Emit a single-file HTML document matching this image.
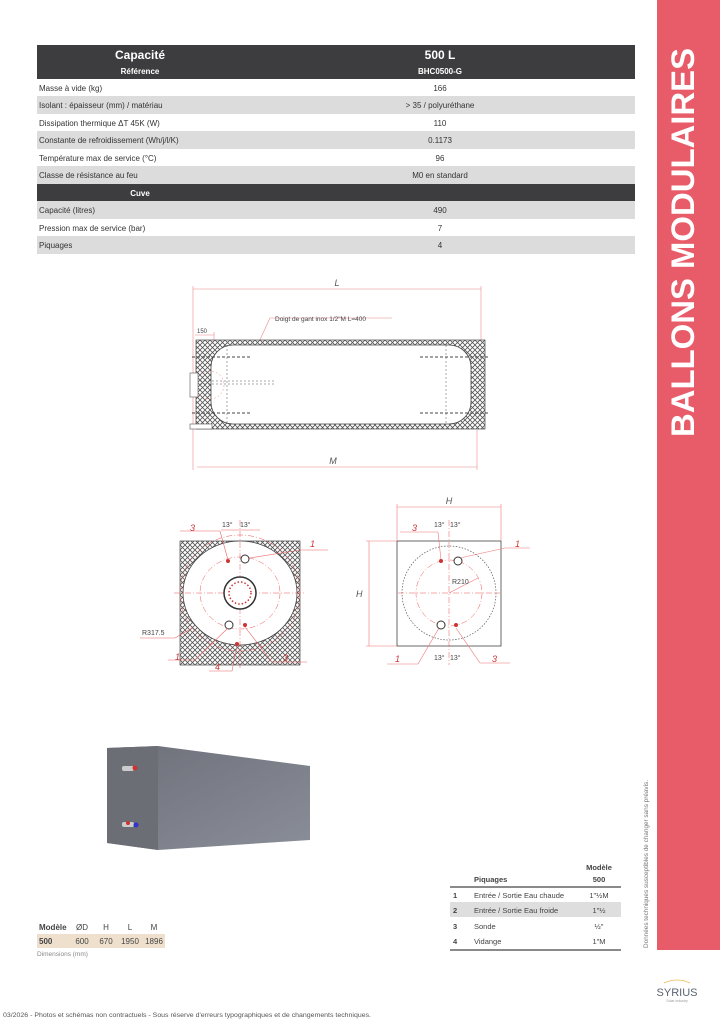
<!DOCTYPE html>
<html><head><meta charset="utf-8"><style>
html,body{margin:0;padding:0;background:#fff}
svg{display:block}
text{font-family:"Liberation Sans",sans-serif}
</style></head><body>
<svg width="720" height="1024" viewBox="0 0 720 1024" xmlns="http://www.w3.org/2000/svg">
<defs>
<pattern id="hx" width="5" height="5" patternUnits="userSpaceOnUse">
<rect width="5" height="5" fill="#fff"/>
<path d="M0 0L5 5M5 0L0 5" stroke="#555" stroke-width="0.8"/>
</pattern>
<linearGradient id="tk" x1="0" y1="0" x2="1" y2="1"><stop offset="0" stop-color="#6d7079"/><stop offset="1" stop-color="#8a8e98"/></linearGradient>
</defs>
<!-- red band -->
<rect x="657" y="0" width="63" height="950" fill="#e85c69"/>
<text transform="translate(694,437) rotate(-90)" font-size="32" font-weight="bold" fill="#fff" textLength="389" lengthAdjust="spacingAndGlyphs">BALLONS MODULAIRES</text>
<text transform="translate(648,948) rotate(-90)" font-size="6.5" fill="#777" textLength="168" lengthAdjust="spacingAndGlyphs">Données techniques susceptibles de changer sans préavis.</text>
<!-- logo -->
<path d="M664 983 Q677 977 690 983" stroke="#e8b84a" fill="none" stroke-width="0.8"/>
<text x="677" y="996" font-size="11" fill="#5a6470" text-anchor="middle">SYRIUS</text>
<text x="677" y="1002" font-size="3.5" fill="#999" text-anchor="middle">Solar industry</text>

<!-- main table -->
<rect x="37" y="45" width="598" height="34" fill="#3d3d3f"/>
<text x="140" y="59" font-size="12" font-weight="bold" fill="#fff" text-anchor="middle">Capacité</text>
<text x="440" y="59" font-size="12" font-weight="bold" fill="#fff" text-anchor="middle">500 L</text>
<text x="140" y="74" font-size="8" font-weight="bold" fill="#fff" text-anchor="middle">Référence</text>
<text x="440" y="74" font-size="8" font-weight="bold" fill="#fff" text-anchor="middle">BHC0500-G</text>
<rect x="37" y="96" width="598" height="18" fill="#dcdcdc"/>
<rect x="37" y="131" width="598" height="18" fill="#dcdcdc"/>
<rect x="37" y="166" width="598" height="18" fill="#dcdcdc"/>
<rect x="37" y="184" width="598" height="17" fill="#3d3d3f"/>
<text x="140" y="196" font-size="8" font-weight="bold" fill="#fff" text-anchor="middle">Cuve</text>
<rect x="37" y="201" width="598" height="18" fill="#dcdcdc"/>
<rect x="37" y="236" width="598" height="18" fill="#dcdcdc"/>
<g font-size="8" fill="#333">
<text x="39" y="91">Masse à vide (kg)</text><text x="440" y="91" text-anchor="middle">166</text>
<text x="39" y="108">Isolant : épaisseur (mm) / matériau</text><text x="440" y="108" text-anchor="middle">&gt; 35 / polyuréthane</text>
<text x="39" y="126">Dissipation thermique ΔT 45K (W)</text><text x="440" y="126" text-anchor="middle">110</text>
<text x="39" y="143">Constante de refroidissement (Wh/j/l/K)</text><text x="440" y="143" text-anchor="middle">0.1173</text>
<text x="39" y="161">Température max de service (°C)</text><text x="440" y="161" text-anchor="middle">96</text>
<text x="39" y="178">Classe de résistance au feu</text><text x="440" y="178" text-anchor="middle">M0 en standard</text>
<text x="39" y="213">Capacité (litres)</text><text x="440" y="213" text-anchor="middle">490</text>
<text x="39" y="231">Pression max de service (bar)</text><text x="440" y="231" text-anchor="middle">7</text>
<text x="39" y="248">Piquages</text><text x="440" y="248" text-anchor="middle">4</text>
</g>

<!-- side view drawing -->
<g stroke="#e88" stroke-width="0.6" fill="none">
<line x1="193" y1="289" x2="481" y2="289"/>
<line x1="193" y1="286" x2="193" y2="470"/>
<line x1="481" y1="286" x2="481" y2="340"/>
<line x1="197" y1="467" x2="477" y2="467"/>
<line x1="477" y1="430" x2="477" y2="470"/>
<line x1="195" y1="335" x2="214" y2="335"/>
<line x1="214" y1="332" x2="214" y2="357"/>
<line x1="270" y1="318" x2="392" y2="318"/>
<line x1="270" y1="318" x2="252" y2="357"/>
<line x1="273" y1="402" x2="297" y2="402"/>
<line x1="273" y1="402" x2="265" y2="389"/>
</g>
<text x="337" y="286" font-size="9" font-style="italic" fill="#555" text-anchor="middle">L</text>
<text x="333" y="464" font-size="9" font-style="italic" fill="#555" text-anchor="middle">M</text>
<text x="197" y="333" font-size="6" fill="#444">150</text>
<text x="275" y="321" font-size="6.5" fill="#444">Doigt de gant inox 1/2"M L=400</text>
<text x="275" y="400" font-size="5.5" fill="#444">ANODE</text>
<rect x="196" y="340" width="289" height="89" fill="url(#hx)" stroke="#444" stroke-width="0.7"/>
<rect x="211" y="345" width="260" height="79" rx="22" fill="#fff" stroke="#444" stroke-width="0.8"/>
<g stroke="#444" stroke-width="1" stroke-dasharray="3,2">
<line x1="192" y1="357" x2="252" y2="357"/><line x1="420" y1="357" x2="488" y2="357"/>
<line x1="192" y1="413" x2="252" y2="413"/><line x1="420" y1="413" x2="488" y2="413"/>
</g>
<g stroke="#555" stroke-width="0.5" stroke-dasharray="2,2" fill="none">
<line x1="227" y1="345" x2="227" y2="424"/><line x1="446" y1="345" x2="446" y2="424"/>
<line x1="196" y1="384" x2="276" y2="384"/><line x1="196" y1="381" x2="276" y2="381"/>
<circle cx="210" cy="385" r="14" stroke="#e88"/>
</g>
<rect x="190" y="373" width="8" height="24" fill="#fff" stroke="#555" stroke-width="0.6"/>
<rect x="190" y="424" width="22" height="5" fill="#fff" stroke="#555" stroke-width="0.6"/>

<!-- left front view -->
<rect x="180" y="541" width="120" height="124" fill="url(#hx)" stroke="#444" stroke-width="0.7"/>
<ellipse cx="240" cy="593" rx="57" ry="52" fill="#fff" stroke="#444" stroke-width="0.8"/>
<g stroke="#e55" stroke-width="0.5" fill="none" stroke-dasharray="6,2,1,2">
<ellipse cx="240" cy="593" rx="40" ry="36"/>
<ellipse cx="240" cy="593" rx="60" ry="58"/>
<line x1="174" y1="593" x2="304" y2="593"/>
<line x1="240" y1="520" x2="240" y2="668"/>
</g>
<circle cx="240" cy="593" r="16" fill="#fff" stroke="#333" stroke-width="1.5"/>
<circle cx="240" cy="593" r="11" fill="none" stroke="#c33" stroke-width="1.5" stroke-dasharray="1.5,2"/>
<circle cx="245" cy="559" r="4" fill="#fff" stroke="#333"/>
<circle cx="229" cy="625" r="4" fill="#fff" stroke="#333"/>
<circle cx="228" cy="561" r="2" fill="#c33"/><circle cx="245" cy="625" r="2" fill="#c33"/>
<circle cx="237" cy="644" r="2" fill="#c33"/>
<g stroke="#e66" stroke-width="0.6" fill="none">
<line x1="180" y1="531" x2="220" y2="531"/><line x1="220" y1="531" x2="228" y2="560"/>
<line x1="250" y1="558" x2="300" y2="550"/><line x1="300" y1="550" x2="328" y2="550"/>
<line x1="168" y1="660" x2="195" y2="660"/><line x1="195" y1="660" x2="228" y2="628"/>
<line x1="245" y1="627" x2="272" y2="662"/><line x1="272" y1="662" x2="307" y2="662"/>
<line x1="209" y1="671" x2="232" y2="671"/><line x1="232" y1="671" x2="237" y2="646"/>
<line x1="140" y1="638" x2="175" y2="638"/><line x1="175" y1="638" x2="192" y2="628"/>
<line x1="221" y1="530" x2="260" y2="530"/>
</g>
<g font-size="9" font-style="italic" fill="#c33">
<text x="190" y="531">3</text><text x="310" y="547">1</text>
<text x="175" y="660">1</text><text x="283" y="661">3</text><text x="215" y="670">4</text>
</g>
<g font-size="7" fill="#444"><text x="222" y="527">13°</text><text x="240" y="527">13°</text>
<text x="142" y="635">R317.5</text></g>

<!-- right front view -->
<rect x="397" y="541" width="104" height="105" fill="#fff" stroke="#444" stroke-width="0.8"/>
<circle cx="449" cy="593" r="47" fill="none" stroke="#555" stroke-width="0.7" stroke-dasharray="1.5,1.5"/>
<g stroke="#e55" stroke-width="0.5" fill="none" stroke-dasharray="6,2,1,2">
<circle cx="449" cy="593" r="33"/>
<line x1="398" y1="593" x2="500" y2="593"/>
<line x1="449" y1="520" x2="449" y2="665"/>
</g>
<g stroke="#e77" stroke-width="0.6" fill="none">
<line x1="397" y1="507" x2="501" y2="507"/><line x1="397" y1="504" x2="397" y2="541"/><line x1="501" y1="504" x2="501" y2="541"/>
<line x1="366" y1="541" x2="397" y2="541"/><line x1="366" y1="646" x2="397" y2="646"/><line x1="369" y1="541" x2="369" y2="646"/>
<line x1="449" y1="593" x2="478" y2="578"/>
<line x1="400" y1="532" x2="438" y2="532"/><line x1="438" y1="532" x2="441" y2="560"/>
<line x1="460" y1="558" x2="505" y2="548"/><line x1="505" y1="548" x2="530" y2="548"/>
<line x1="387" y1="664" x2="418" y2="664"/><line x1="418" y1="664" x2="439" y2="628"/>
<line x1="456" y1="628" x2="480" y2="663"/><line x1="480" y1="663" x2="510" y2="663"/>
</g>
<circle cx="458" cy="561" r="4" fill="#fff" stroke="#333"/>
<circle cx="441" cy="625" r="4" fill="#fff" stroke="#333"/>
<circle cx="441" cy="561" r="2" fill="#c33"/><circle cx="456" cy="625" r="2" fill="#c33"/>
<g font-size="9" font-style="italic" fill="#c33">
<text x="412" y="531">3</text><text x="515" y="547">1</text>
<text x="395" y="662">1</text><text x="492" y="662">3</text>
</g>
<g font-size="9" font-style="italic" fill="#555"><text x="449" y="504" text-anchor="middle">H</text><text x="356" y="597">H</text></g>
<g font-size="7" fill="#444"><text x="434" y="527">13°</text><text x="450" y="527">13°</text>
<text x="434" y="660">13°</text><text x="450" y="660">13°</text><text x="452" y="584">R210</text></g>

<!-- tank image -->
<polygon points="107,748 158,746 310,766 310,840 158,850 107,843" fill="url(#tk)"/>
<polygon points="107,748 158,746 158,850 107,843" fill="#6c6e76"/>
<rect x="122" y="766" width="12" height="5" rx="2" fill="#ccc"/><circle cx="135" cy="768" r="2.5" fill="#c33"/>
<rect x="122" y="822" width="12" height="5" rx="2" fill="#ccc"/><circle cx="136" cy="825" r="2.5" fill="#33c"/><circle cx="128" cy="823" r="2" fill="#c33"/>

<!-- dimensions table -->
<rect x="37" y="934" width="128" height="14" fill="#efe0cd"/>
<g font-size="8" fill="#444">
<text x="39" y="930" font-weight="bold">Modèle</text><text x="82" y="930" text-anchor="middle">ØD</text><text x="106" y="930" text-anchor="middle">H</text><text x="130" y="930" text-anchor="middle">L</text><text x="154" y="930" text-anchor="middle">M</text>
<text x="39" y="944" font-weight="bold">500</text><text x="82" y="944" text-anchor="middle">600</text><text x="106" y="944" text-anchor="middle">670</text><text x="130" y="944" text-anchor="middle">1950</text><text x="154" y="944" text-anchor="middle">1896</text>
<text x="37" y="956" font-size="6.5" fill="#888">Dimensions (mm)</text>
</g>

<!-- piquages table -->
<g font-size="7.5" fill="#444">
<text x="599" y="870" text-anchor="middle" font-weight="bold">Modèle</text>
<text x="474" y="882" font-weight="bold">Piquages</text>
<text x="599" y="882" text-anchor="middle" font-weight="bold">500</text>
<line x1="450" y1="887" x2="621" y2="887" stroke="#444" stroke-width="1.3"/>
<rect x="450" y="902" width="171" height="15" fill="#dedede"/>
<text x="453" y="898" font-weight="bold">1</text><text x="474" y="898">Entrée / Sortie Eau chaude</text><text x="599" y="898" text-anchor="middle">1"½M</text>
<text x="453" y="913" font-weight="bold">2</text><text x="474" y="913">Entrée / Sortie Eau froide</text><text x="599" y="913" text-anchor="middle">1"½</text>
<text x="453" y="929" font-weight="bold">3</text><text x="474" y="929">Sonde</text><text x="599" y="929" text-anchor="middle">½"</text>
<text x="453" y="944" font-weight="bold">4</text><text x="474" y="944">Vidange</text><text x="599" y="944" text-anchor="middle">1"M</text>
<line x1="450" y1="950" x2="621" y2="950" stroke="#444" stroke-width="1.3"/>
</g>

<text x="3" y="1017" font-size="6.3" fill="#555" textLength="368" lengthAdjust="spacingAndGlyphs">03/2026 - Photos et schémas non contractuels - Sous réserve d'erreurs typographiques et de changements techniques.</text>
</svg>
</body></html>
